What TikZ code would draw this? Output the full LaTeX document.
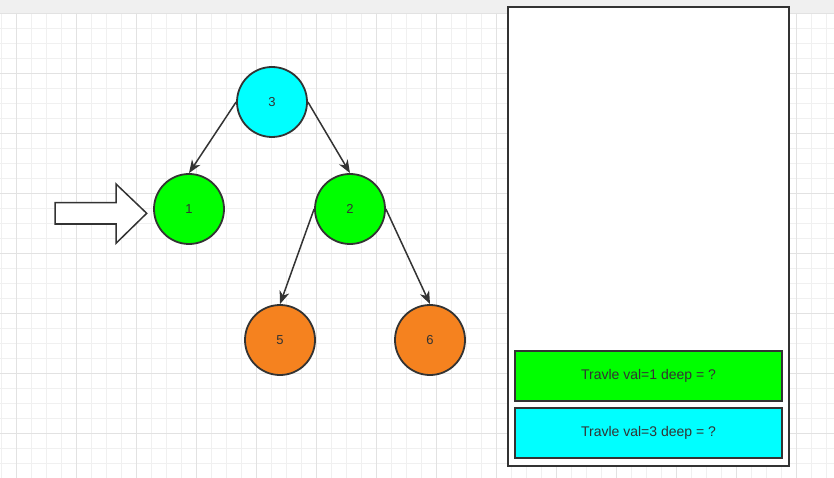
\documentclass[tikz,border=0pt]{standalone}
\usepackage{fontspec}
\setmainfont{Liberation Sans}
\usetikzlibrary{positioning, arrows.meta}
\definecolor{linegray}{RGB}{51, 51, 51}
\definecolor{nodecyan}{RGB}{0, 255, 255}
\definecolor{nodegreen}{RGB}{0, 255, 0}
\definecolor{nodeorange}{RGB}{245, 130, 31}
\definecolor{gridminor}{RGB}{240, 240, 240}
\definecolor{gridmajor}{RGB}{226, 226, 226}
\definecolor{topbar}{RGB}{240, 240, 240}

\begin{document}
\begin{tikzpicture}[x=1pt, y=-1pt,
      treenode/.style={circle, draw=linegray, fill=#1, line width=1.8pt, minimum size=70pt, inner sep=0pt, font=\fontsize{13}{15}\selectfont, text=linegray},
      stackbox/.style={draw=linegray, fill=#1, line width=2pt, minimum width=267pt, minimum height=50pt, inner sep=0pt, font=\fontsize{14}{16}\selectfont, text=linegray},
      treearrow/.style={-{Stealth[length=13pt, width=10pt, inset=4pt]}, line width=1.5pt, linegray}
    ]
      \useasboundingbox (0,0) rectangle (834,478);
      % canvas with grid
      \fill[white] (0,13) rectangle (834,478);
      \fill[topbar] (0,0) rectangle (834,13);
      \foreach \x in {1.7,16.7,...,834} \draw[gridminor, line width=0.8pt] (\x,13) -- (\x,478);
      \foreach \y in {13.3,28.3,...,478} \draw[gridminor, line width=0.8pt] (0,\y) -- (834,\y);
      \foreach \x in {16.7,76.7,...,834} \draw[gridmajor, line width=0.8pt] (\x,13) -- (\x,478);
      \foreach \y in {13.3,73.3,...,478} \draw[gridmajor, line width=0.8pt] (0,\y) -- (834,\y);

      % tree
      \node[treenode=nodecyan] (n3) at (272,102) {3};
      \node[treenode=nodegreen] (n1) at (189,209) {1};
      \node[treenode=nodegreen] (n2) at (350,209) {2};
      \node[treenode=nodeorange] (n5) at (280,340) {5};
      \node[treenode=nodeorange] (n6) at (430,340) {6};

      \draw[treearrow] (n3.west) -- (n1.north);
      \draw[treearrow] (n3.east) -- (n2.north);
      \draw[treearrow] (n2.west) -- (n5.north);
      \draw[treearrow] (n2.east) -- (n6.north);

      % pointer
      \draw[linegray, fill=white, line width=1.5pt] (55,202.7) -- (116,202.7) -- (116,184) -- (146.7,213.3) -- (116,243.3) -- (116,224) -- (55,224) -- cycle;

      % stack
      \node[draw=linegray, fill=white, line width=2pt, minimum width=281pt, minimum height=459pt, inner sep=0pt] (stack) at (648.5,236.5) {};
      \node[stackbox=nodecyan] (s3) at (648.5,432.7) {Travle val=3 deep = ?};
      \node[stackbox=nodegreen, above=4.7pt of s3] (s1) {Travle val=1 deep = ?};
    \end{tikzpicture}
\end{document}
